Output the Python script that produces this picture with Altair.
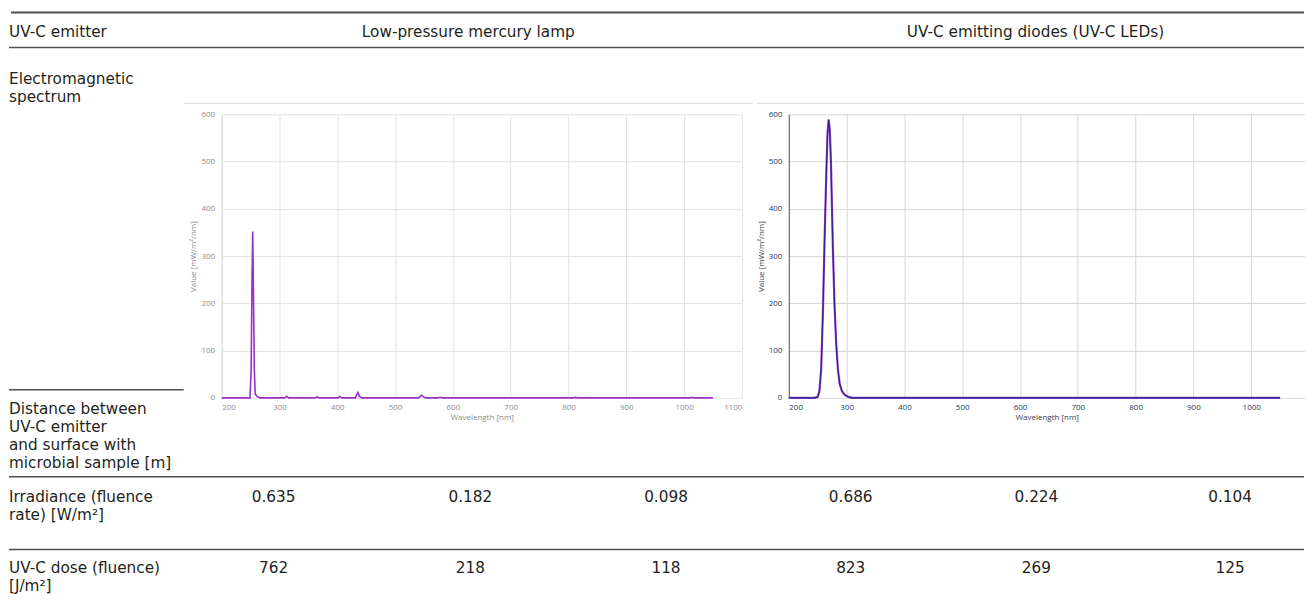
import altair as alt
import pandas as pd

FONT = "DejaVu Sans"
AXFONT = "Open Sans"
TXT = "#231f20"
RULE = "#505050"
FS = 15.3
LH = 18

# ---------------- data ----------------
hg_wl = [200, 246, 249, 251, 252.5, 253.7, 255, 256.5, 258, 261, 263, 266,
         309, 312.7, 316, 362, 365.5, 369, 401, 404.5, 408,
         431, 433.5, 435.8, 438, 442, 541, 543, 546, 549, 553,
         575, 578, 581, 808, 812, 816, 1013, 1015, 1017, 1050]
hg_val = [0, 0, 0, 60, 250, 352, 220, 60, 8, 3, 2, 0,
          0, 3.5, 0, 0, 2, 0, 0, 3, 0,
          0, 6, 11.5, 4, 0, 0, 3, 5.5, 2, 0,
          0, 1.2, 0, 0, 1, 0, 0, 1, 0, 0]

led_wl = [200, 245, 250, 253, 256, 259, 262, 265, 267, 269, 271, 273, 276,
          279, 282, 285, 288, 292, 297, 303, 310, 1050]
led_val = [0, 0, 2, 15, 60, 180, 340, 480, 560, 589, 565, 495, 330,
           200, 115, 60, 30, 14, 6, 2, 0, 0]

x_ticks = [200, 300, 400, 500, 600, 700, 800, 900, 1000, 1100]
y_ticks = [0, 100, 200, 300, 400, 500, 600]

header_first = "UV-C emitter"
emitters = ["Low-pressure mercury lamp", "UV-C emitting diodes (UV-C LEDs)"]
spectrum_label = ["Electromagnetic", "spectrum"]
distance_label = ["Distance between", "UV-C emitter", "and surface with", "microbial sample [m]"]
irradiance_label = ["Irradiance (fluence", "rate) [W/m²]"]
dose_label = ["UV-C dose (fluence)", "[J/m²]"]
irradiance = ["0.635", "0.182", "0.098", "0.686", "0.224", "0.104"]
dose = ["762", "218", "118", "823", "269", "125"]

# ---------------- layout (page pixels) ----------------
OX, OY = 8, 114            # page position of the first column's plot origin
LAB_W = 212.7
PLOT_W, PLOT_H = 521, 284
GAP_W = 46.5
RIGHT = 1305               # the page's right margin starts here
PX_PER_NM = PLOT_W / 900.0
LED_W = RIGHT - (OX + LAB_W + PLOT_W + GAP_W)
LED_MAX = 200 + LED_W / PX_PER_NM   # right panel is cropped by the page edge
col_x = [273, 470, 666, 851, 1037, 1231]
emitter_x = [468, 1036]
label_x = 8

# multi-line cells: y is the centre of the first line
left_items = [(header_first, label_x, 32)]
for lines, y0 in [(spectrum_label, 79), (distance_label, 409),
                  (irradiance_label, 497), (dose_label, 568)]:
    left_items.append(("\n".join(lines), label_x, y0))

center_items = [(emitters[0], emitter_x[0], 32), (emitters[1], emitter_x[1], 32)]
center_items += [(v, col_x[i], 497) for i, v in enumerate(irradiance)]
center_items += [(v, col_x[i], 568) for i, v in enumerate(dose)]

# x, x2, y, width, colour
rule_items = [(8, 20, 8.5, 1, "#ffffff"),
              (10, RIGHT, 12, 2, RULE),
              (8, RIGHT, 47, 1.5, RULE),
              (183, 753, 103, 1, "#dcdcdc"),
              (757, RIGHT, 103, 1, "#dcdcdc"),
              (8, 183, 390, 1.5, RULE),
              (8, RIGHT, 477, 1.5, RULE),
              (8, RIGHT, 550, 1.5, RULE)]


def to_local(items, xi, yi):
    out = []
    for it in items:
        it = list(it)
        for k in xi:
            it[k] = it[k] - OX
        for k in yi:
            it[k] = it[k] - OY
        out.append(it)
    return out


dl = pd.DataFrame(to_local(left_items, [1], [2]), columns=["t", "px", "py"])
dc = pd.DataFrame(to_local(center_items, [1], [2]), columns=["t", "px", "py"])
dr = pd.DataFrame(to_local(rule_items, [0, 1], [2]), columns=["px", "px2", "py", "w", "c"])

xs = alt.Scale(domain=[0, LAB_W], range=[0, LAB_W], nice=False, zero=False)
ys = alt.Scale(domain=[0, PLOT_H], range=[0, PLOT_H], nice=False, zero=False)

rules = alt.Chart(dr).mark_rule().encode(
    x=alt.X("px:Q", scale=xs, axis=None),
    x2="px2:Q",
    y=alt.Y("py:Q", scale=ys, axis=None),
    strokeWidth=alt.StrokeWidth("w:Q", scale=None, legend=None),
    color=alt.Color("c:N", scale=None, legend=None),
)
left_txt = alt.Chart(dl).mark_text(align="left", baseline="middle", font=FONT,
                                   fontSize=FS, color=TXT, lineBreak="\n",
                                   lineHeight=LH).encode(
    x=alt.X("px:Q", scale=xs, axis=None),
    y=alt.Y("py:Q", scale=ys, axis=None),
    text="t:N",
)
center_txt = alt.Chart(dc).mark_text(align="center", baseline="middle", font=FONT,
                                     fontSize=FS, color=TXT).encode(
    x=alt.X("px:Q", scale=xs, axis=None),
    y=alt.Y("py:Q", scale=ys, axis=None),
    text="t:N",
)
table = alt.layer(rules, left_txt, center_txt).properties(width=LAB_W, height=PLOT_H)


# ---------------- spectra ----------------
def spectrum(wl, val, lab_col, title_col, dom_col, grid_col, layers, xmax, width):
    df = pd.DataFrame({"wl": wl, "val": val})
    ticks = [t for t in x_ticks if t <= xmax]
    x = alt.X("wl:Q", scale=alt.Scale(domain=[200, xmax], nice=False, zero=False),
              axis=alt.Axis(values=ticks, format="d", title="Wavelength [nm]", grid=True,
                            gridColor=grid_col, domain=False, ticks=False,
                            labelFont=AXFONT, labelFontSize=8, labelColor=lab_col,
                            titleFont=AXFONT, titleFontSize=8, titleFontWeight="normal",
                            titleColor=title_col, labelPadding=6, titlePadding=2))
    y = alt.Y("val:Q", scale=alt.Scale(domain=[0, 600], nice=False),
              axis=alt.Axis(values=y_ticks, format="d", title="Value [mW/m²/nm]", grid=True,
                            gridColor=grid_col, domain=True, domainColor=dom_col,
                            ticks=False, labelFont=AXFONT, labelFontSize=8,
                            labelColor=lab_col, titleFont=AXFONT, titleFontSize=8,
                            titleFontWeight="normal", titleColor=title_col,
                            labelPadding=7, titlePadding=3))
    marks = []
    for i, (c, w) in enumerate(layers):
        m = alt.Chart(df).mark_line(color=c, strokeWidth=w)
        if i == 0:
            m = m.encode(x=x, y=y)
        else:
            m = m.encode(x="wl:Q", y="val:Q")
        marks.append(m)
    return alt.layer(*marks).properties(width=width, height=PLOT_H)


hg = spectrum(hg_wl, hg_val, "#8c8c8c", "#8c8c8c", "#d9d9d9", "#e4e4e4",
              [("#9b30c8", 1.6)], 1100, PLOT_W)
led = spectrum(led_wl, led_val, "#263a56", "#404040", "#5a5a5a", "#d6d6d6",
               [("#8e44c8", 2.2), ("#34208a", 1.1)], LED_MAX, LED_W)

gap = alt.Chart(pd.DataFrame({"a": [0]})).mark_rule(color="#ffffff", opacity=0).encode(
    x=alt.value(10), x2=alt.value(20), y=alt.value(100)).properties(width=GAP_W, height=PLOT_H)

chart = alt.hconcat(table, hg, gap, led, spacing=0, bounds="flush", padding=0).configure(
    background="white", view=alt.ViewConfig(strokeWidth=0))

chart.save("out.html", embed_options={"renderer": "svg", "actions": False})
